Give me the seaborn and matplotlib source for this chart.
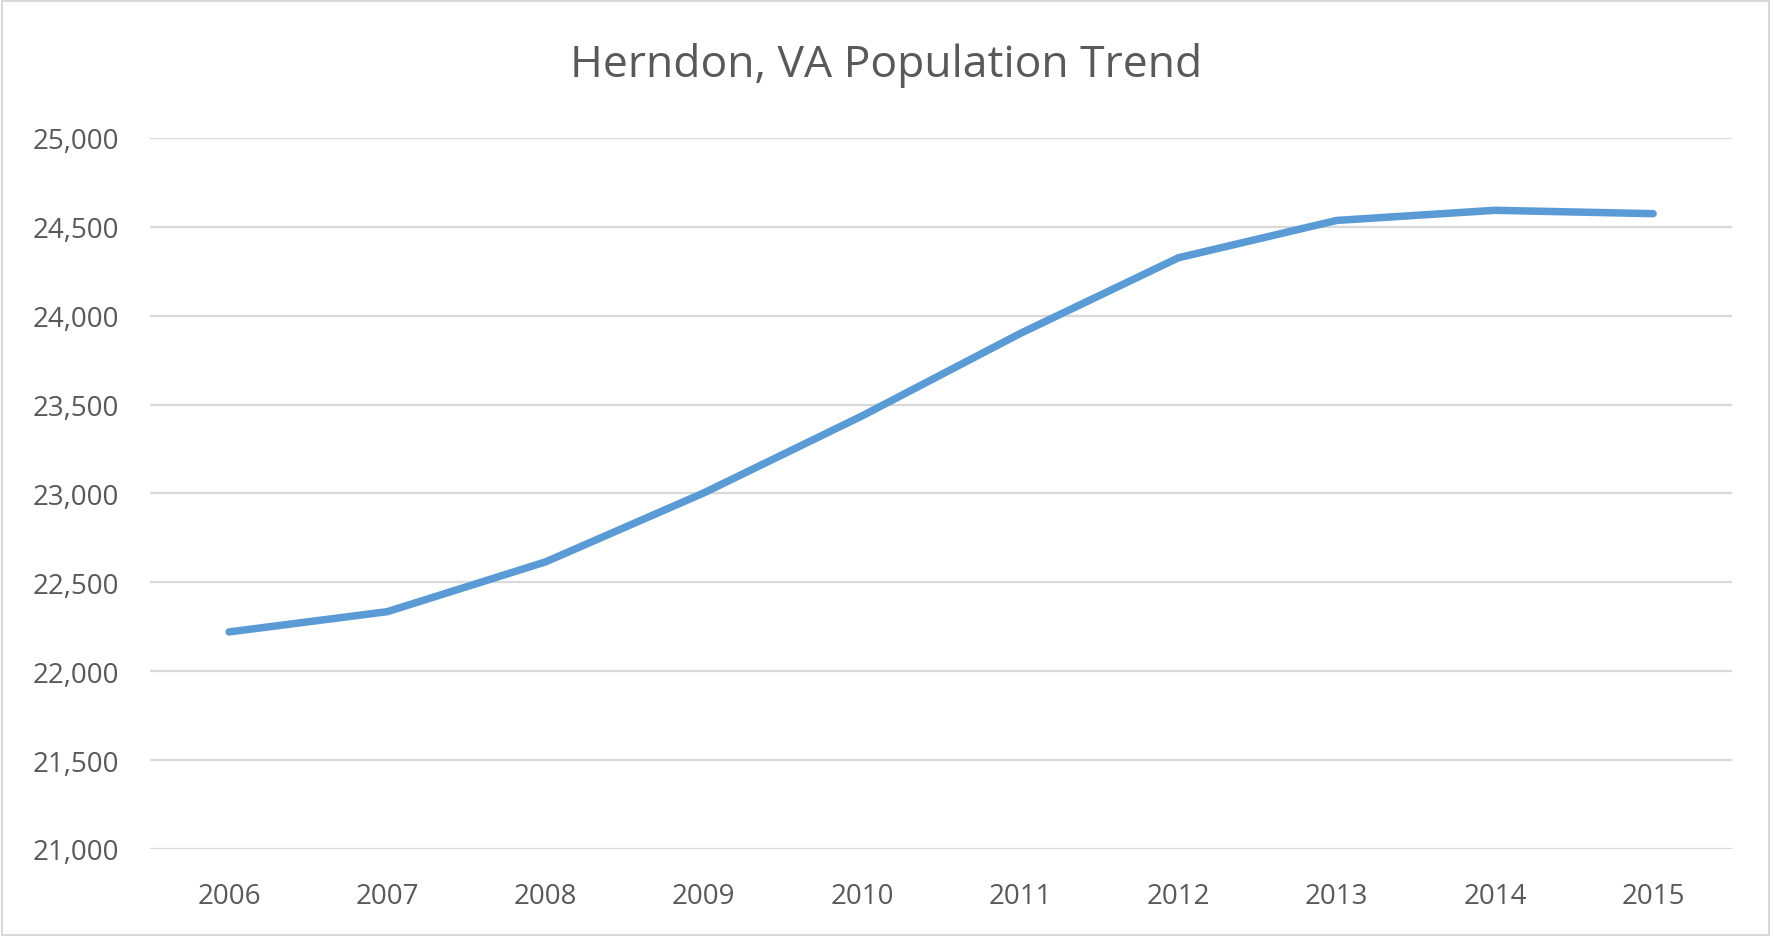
import pandas as pd
import seaborn as sns
import matplotlib.pyplot as plt
from matplotlib.ticker import FuncFormatter, MultipleLocator
from matplotlib.patches import Rectangle

years = ["2006", "2007", "2008", "2009", "2010",
         "2011", "2012", "2013", "2014", "2015"]
population = [22221, 22335, 22615, 23003, 23436,
              23900, 24326, 24536, 24593, 24574]

df = pd.DataFrame({"year": years, "population": population})

sns.set_style("white")
plt.rcParams['font.family'] = ['Open Sans', 'DejaVu Sans']

text_col = "#595959"
grid_col = "#D9D9D9"

fig = plt.figure(figsize=(17.73, 9.37), dpi=100)
ax = fig.add_axes([0.0846, 0.0929, 0.8924, 0.7588])

sns.lineplot(data=df, x="year", y="population", ax=ax,
             color="#5B9BD5", linewidth=5.4, sort=False)
ax.lines[0].set_solid_capstyle("round")
ax.lines[0].set_solid_joinstyle("round")

ax.set_xlim(-0.5, len(years) - 0.5)
ax.set_ylim(21000, 25000)
ax.yaxis.set_major_locator(MultipleLocator(500))
ax.yaxis.set_major_formatter(FuncFormatter(lambda v, p: f"{int(v):,}"))
ax.grid(axis="y", color=grid_col, linewidth=1.6)
ax.grid(axis="x", visible=False)
ax.set_axisbelow(True)
for s in ax.spines.values():
    s.set_visible(False)
ax.tick_params(axis="both", length=0, labelsize=20, colors=text_col)
ax.tick_params(axis="y", pad=22)
ax.tick_params(axis="x", pad=24)
ax.set_xlabel("")
ax.set_ylabel("")

fig.text(0.5, 0.930, "Herndon, VA Population Trend", ha="center", va="center",
         fontsize=32, color=text_col)

fig.patches.append(Rectangle((0.001, 0.001), 0.997, 0.997, transform=fig.transFigure,
                             fill=False, edgecolor=grid_col, linewidth=1.5))

fig.savefig("out.png", dpi=100)
